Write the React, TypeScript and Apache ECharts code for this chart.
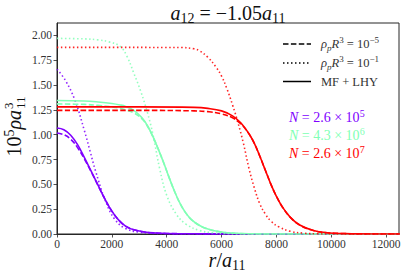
import React, { useEffect, useRef } from "react";
import * as echarts from "echarts";

const FONT = "Liberation Serif";
const PURPLE = "#8000ff";
const GREEN = "#80ffb4";
const RED = "#ff0000";
const INK = "#262626";

// Axis ranges
const X_MAX = 12470;
const Y_MAX = 2.125;

// N = 2.6e5 (purple)
const purpleSolidR = [0, 250, 500, 750, 1000, 1250, 1500, 1750, 2000, 2250, 2500, 2800, 3200, 3600, 4000, 5000, 6000, 12500];
const purpleSolidV = [1.067, 1.05, 0.995, 0.9, 0.77, 0.63, 0.49, 0.35, 0.23, 0.14, 0.08, 0.042, 0.02, 0.01, 0.005, 0.002, 0.0005, 0];
const purpleDashedR = [0, 250, 500, 750, 1000, 1250, 1500, 1750, 2000, 2250, 2500, 2800, 3200, 3600, 4000, 5000, 6000, 12500];
const purpleDashedV = [1.017, 1.0, 0.955, 0.87, 0.755, 0.625, 0.487, 0.35, 0.23, 0.14, 0.08, 0.042, 0.02, 0.01, 0.005, 0.002, 0.0005, 0];
const purpleDottedR = [0, 300, 650, 1000, 1200, 1400, 1750, 2100, 2500, 3000, 3500, 4000, 5000, 12500];
const purpleDottedV = [1.66, 1.55, 1.35, 1.04, 0.84, 0.64, 0.345, 0.15, 0.055, 0.018, 0.006, 0.002, 0, 0];

// N = 4.3e6 (green)
const greenSolidR = [0, 1000, 1500, 2000, 2300, 2500, 2800, 3100, 3300, 3500, 3700, 3900, 4100, 4300, 4500, 4700, 4900, 5200, 5500, 6000, 6500, 7000, 8000, 12500];
const greenSolidV = [1.345, 1.34, 1.33, 1.315, 1.3, 1.285, 1.245, 1.17, 1.09, 0.98, 0.85, 0.71, 0.56, 0.42, 0.3, 0.21, 0.145, 0.085, 0.05, 0.02, 0.007, 0.002, 0, 0];
const greenDashedR = [0, 1000, 1500, 2000, 2300, 2500, 2800, 3100, 3300, 3500, 3700, 3900, 4100, 4300, 4500, 4700, 4900, 5200, 5500, 6000, 6500, 7000, 8000, 12500];
const greenDashedV = [1.31, 1.305, 1.295, 1.28, 1.265, 1.25, 1.22, 1.16, 1.085, 0.978, 0.85, 0.71, 0.56, 0.42, 0.3, 0.21, 0.145, 0.085, 0.05, 0.02, 0.007, 0.002, 0, 0];
const greenDottedR = [0, 1000, 1500, 1900, 2300, 2550, 2800, 3050, 3300, 3500, 3750, 4000, 4350, 4700, 5200, 5700, 6200, 7000, 12500];
const greenDottedV = [1.97, 1.965, 1.955, 1.935, 1.89, 1.79, 1.62, 1.44, 1.22, 1.0, 0.65, 0.39, 0.2, 0.1, 0.035, 0.012, 0.003, 0, 0];

// N = 2.6e7 (red)
const redSolidR = [0, 3000, 5000, 5500, 6000, 6400, 6700, 7000, 7200, 7400, 7600, 7800, 8000, 8200, 8500, 8850, 9350, 9850, 10500, 11000, 12500];
const redSolidV = [1.28, 1.28, 1.275, 1.265, 1.24, 1.19, 1.12, 1.01, 0.91, 0.78, 0.64, 0.5, 0.38, 0.28, 0.17, 0.09, 0.035, 0.013, 0.004, 0.001, 0];
const redDashedR = [0, 3000, 5000, 5500, 6000, 6400, 6700, 7000, 7200, 7400, 7600, 7800, 8000, 8200, 8500, 8850, 9350, 9850, 10500, 11000, 12500];
const redDashedV = [1.245, 1.245, 1.24, 1.232, 1.21, 1.17, 1.11, 1.008, 0.91, 0.78, 0.64, 0.5, 0.38, 0.28, 0.17, 0.09, 0.035, 0.013, 0.004, 0.001, 0];
const redDottedR = [0, 4500, 5000, 5200, 5500, 5800, 6000, 6200, 6400, 6600, 6800, 7000, 7200, 7400, 7600, 7800, 8100, 8500, 9000, 9500, 10000, 12500];
const redDottedV = [1.88, 1.878, 1.865, 1.845, 1.78, 1.68, 1.59, 1.46, 1.3, 1.12, 0.91, 0.66, 0.46, 0.3, 0.2, 0.13, 0.07, 0.028, 0.008, 0.002, 0, 0];

const DASHED = [5.5, 2.4];
const DOTTED = [1.5, 2.5];

const pairs = (r: number[], v: number[]) => r.map((x, i) => [x, v[i]]);

const curve = (name: string, r: number[], v: number[], color: string, type: any, opacity = 1) => ({
  name,
  type: "line",
  data: pairs(r, v),
  symbol: "none",
  showSymbol: false,
  smooth: 0.4,
  silent: true,
  clip: true,
  lineStyle: { color, width: 1.6, type, opacity },
});

// rich styles for graphic texts (zrender uses fill)
const gRich = (size: number, color: string) => {
  const small = Math.round(size * 0.7);
  const lh = Math.round(size * 0.55);
  return {
    i: { fontFamily: FONT, fontStyle: "italic", fontSize: size, lineHeight: size + 4, verticalAlign: "middle", fill: color },
    n: { fontFamily: FONT, fontSize: size, lineHeight: size + 4, verticalAlign: "middle", fill: color },
    s: { fontFamily: FONT, fontSize: small, lineHeight: lh, verticalAlign: "bottom", fill: color },
    si: { fontFamily: FONT, fontStyle: "italic", fontSize: small, lineHeight: lh, verticalAlign: "bottom", fill: color },
    u: { fontFamily: FONT, fontSize: small, lineHeight: lh, verticalAlign: "top", fill: color },
  };
};

export default function App() {
  const ref = useRef<HTMLDivElement>(null);
  useEffect(() => {
    if (!ref.current) return;
    const chart = echarts.init(ref.current, undefined, { renderer: "svg" });
    const legendRich = gRich(12.5, "#333");
    const option: any = {
      animation: false,
      backgroundColor: "#ffffff",
      textStyle: { fontFamily: FONT },
      grid: { left: 57, right: 8, top: 23, bottom: 46, show: true, borderColor: INK, borderWidth: 1, containLabel: false },
      xAxis: {
        type: "value",
        min: 0,
        max: X_MAX,
        interval: 2000,
        axisLine: { show: true, lineStyle: { color: INK, width: 1 } },
        axisTick: { show: true, length: 3.5, inside: false, lineStyle: { color: INK, width: 0.8 } },
        axisLabel: { fontFamily: FONT, fontSize: 11.5, color: "#333", margin: 4, showMaxLabel: false, formatter: (v: number) => String(v) },
        splitLine: { show: false },
      },
      yAxis: {
        type: "value",
        min: 0,
        max: Y_MAX,
        interval: 0.25,
        axisLine: { show: true, lineStyle: { color: INK, width: 1 } },
        axisTick: { show: true, length: 3.5, inside: false, lineStyle: { color: INK, width: 0.8 } },
        axisLabel: { fontFamily: FONT, fontSize: 11.5, color: "#333", margin: 5, showMaxLabel: false, formatter: (v: number) => v.toFixed(2) },
        splitLine: { show: false },
      },
      series: [
        curve("N1 dotted", purpleDottedR, purpleDottedV, PURPLE, DOTTED, 0.85),
        curve("N1 dashed", purpleDashedR, purpleDashedV, PURPLE, DASHED),
        curve("N1 MF+LHY", purpleSolidR, purpleSolidV, PURPLE, "solid"),
        curve("N2 dotted", greenDottedR, greenDottedV, GREEN, DOTTED, 0.85),
        curve("N2 dashed", greenDashedR, greenDashedV, GREEN, DASHED),
        curve("N2 MF+LHY", greenSolidR, greenSolidV, GREEN, "solid"),
        curve("N3 dotted", redDottedR, redDottedV, RED, DOTTED, 0.85),
        curve("N3 dashed", redDashedR, redDashedV, RED, DASHED),
        curve("N3 MF+LHY", redSolidR, redSolidV, RED, "solid"),
      ],
      graphic: [
        // title
        {
          type: "text", x: 228, y: 13, silent: true,
          style: { text: "{i|a}{s|12}{n| = −1.05}{i|a}{s|11}", rich: gRich(20, "#111"), align: "center", verticalAlign: "middle" },
        },
        // x axis label
        {
          type: "text", x: 227, y: 260, silent: true,
          style: { text: "{i|r}{n|/}{i|a}{s|11}", rich: gRich(20, "#111"), align: "center", verticalAlign: "middle" },
        },
        // y axis label (rotated)
        {
          type: "group", x: 14, y: 128, rotation: Math.PI / 2, silent: true,
          children: [
            { type: "text", x: 18, y: 0, style: { text: "{n|10}{u|5}{i|ρa}", rich: gRich(20, "#111"), align: "right", verticalAlign: "middle" } },
            { type: "text", x: 19, y: -5.5, style: { text: "3", fontFamily: FONT, fontSize: 13, fill: "#111", align: "left", verticalAlign: "middle" } },
            { type: "text", x: 19, y: 6.5, style: { text: "11", fontFamily: FONT, fontSize: 13, fill: "#111", align: "left", verticalAlign: "middle" } },
          ],
        },
        // legend lines
        { type: "line", silent: true, shape: { x1: 283, y1: 44, x2: 311, y2: 44 }, style: { stroke: "#000", lineWidth: 1.5, lineDash: DASHED } },
        { type: "line", silent: true, shape: { x1: 283, y1: 63, x2: 311, y2: 63 }, style: { stroke: "#000", lineWidth: 1.5, lineDash: DOTTED } },
        { type: "line", silent: true, shape: { x1: 283, y1: 81.5, x2: 311, y2: 81.5 }, style: { stroke: "#000", lineWidth: 1.5 } },
        { type: "text", x: 321, y: 44, silent: true, style: { text: "{i|ρ}{si|p}{i|R}{u|3}{n| = 10}{u|−5}", rich: legendRich, align: "left", verticalAlign: "middle" } },
        { type: "text", x: 321, y: 63, silent: true, style: { text: "{i|ρ}{si|p}{i|R}{u|3}{n| = 10}{u|−1}", rich: legendRich, align: "left", verticalAlign: "middle" } },
        { type: "text", x: 321, y: 81.5, silent: true, style: { text: "{n|MF + LHY}", rich: legendRich, align: "left", verticalAlign: "middle" } },
        // N labels
        { type: "text", x: 289, y: 117, silent: true, style: { text: "{i|N}{n| = 2.6 × 10}{u|5}", rich: gRich(14, PURPLE), align: "left", verticalAlign: "middle" } },
        { type: "text", x: 289, y: 135.5, silent: true, style: { text: "{i|N}{n| = 4.3 × 10}{u|6}", rich: gRich(14, GREEN), align: "left", verticalAlign: "middle" } },
        { type: "text", x: 289, y: 153.5, silent: true, style: { text: "{i|N}{n| = 2.6 × 10}{u|7}", rich: gRich(14, RED), align: "left", verticalAlign: "middle" } },
      ],
    };
    chart.setOption(option);
    return () => chart.dispose();
  }, []);
  return <div ref={ref} style={{ position: "fixed", left: 0, top: 0, width: 407, height: 280 }} />;
}
